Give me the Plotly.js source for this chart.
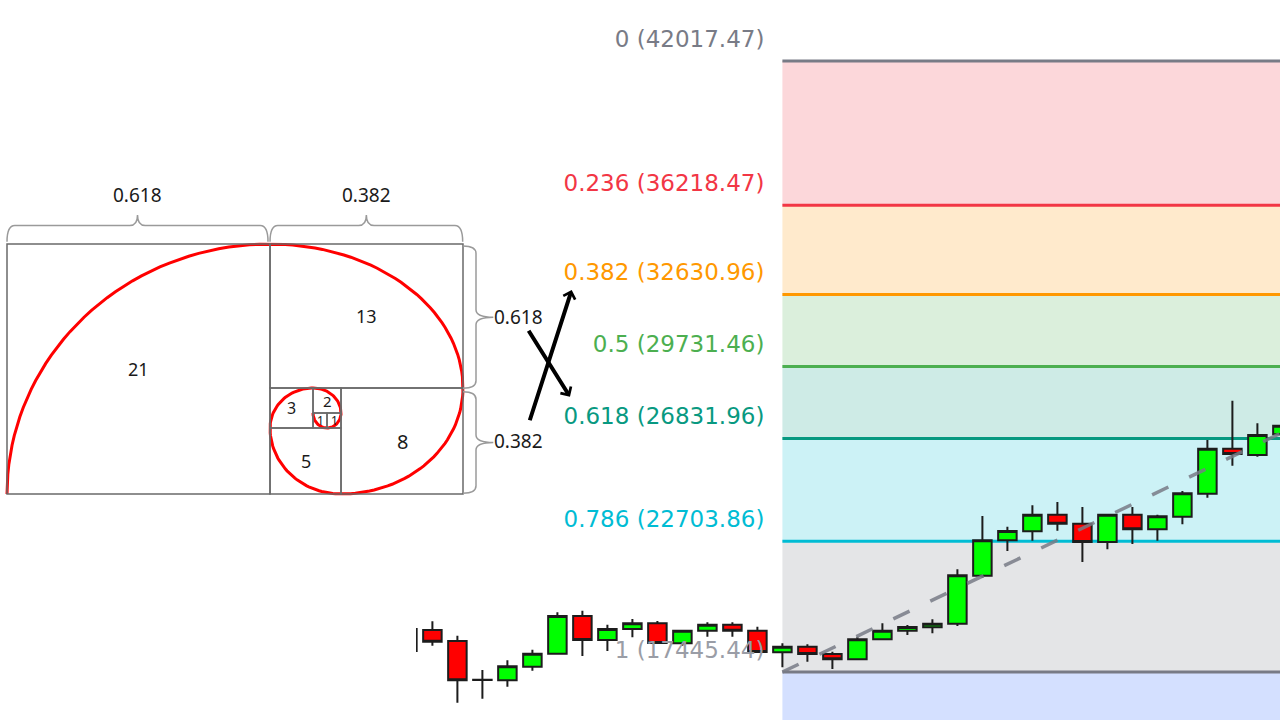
<!DOCTYPE html>
<html>
<head>
<meta charset="utf-8">
<script src="https://cdn.plot.ly/plotly-3.0.1.min.js"></script>
<style>html,body{margin:0;padding:0;background:#fff;}#chart{width:1280px;height:720px;}</style>
</head>
<body>
<div id="chart"></div>
<script>
// ---------------- DATA ----------------
// Fibonacci retracement levels and their prices
const fibLevels = [0, 0.236, 0.382, 0.5, 0.618, 0.786, 1];
const fibPrices = [42017.47, 36218.47, 32630.96, 29731.46, 26831.96, 22703.86, 17445.44];
const fibColors = ['#787b86', '#f23645', '#ff9800', '#4caf50', '#089981', '#00bcd4', '#787b86'];
const fibLabelColors = ['#787b86', '#f23645', '#ff9800', '#4caf50', '#089981', '#00bcd4', '#9a9da6'];
const extLevel = 1.618;
const extColor = '#2962ff';

// Candles (index order)
const candleOpen  = [18290, 19134, 18692, 17130, 17112, 17659, 18181, 19698, 18732, 19175, 19404, 18600, 19106, 19348, 19106, 18238, 18463, 18169, 17956, 18760, 19106, 19243, 19388, 21318, 22742, 23104, 23771, 23410, 22674, 23771, 23184, 23690, 24616, 26426, 26172, 27005];
const candleHigh  = [19175, 19484, 18905, 17526, 17916, 18342, 19846, 19911, 19348, 19577, 19496, 19110, 19444, 19444, 19267, 18600, 18559, 18262, 18865, 19404, 19336, 19565, 21576, 23719, 23289, 24150, 24282, 24081, 23780, 24081, 23771, 24725, 26776, 28356, 27447, 27351];
const candleLow   = [18290, 18503, 16211, 16372, 16854, 17498, 18169, 18089, 18290, 18841, 18592, 18503, 18865, 18865, 18245, 17634, 17860, 17566, 17950, 18755, 18933, 19002, 19295, 21238, 22312, 22726, 23128, 21869, 22380, 22593, 22726, 23385, 24455, 25742, 26104, 27005];
const candleClose = [19175, 18664, 17112, 17124, 17675, 18181, 19698, 18732, 19175, 19404, 18612, 19106, 19348, 19106, 18250, 18463, 18169, 17956, 18760, 19106, 19255, 19388, 21334, 22742, 23116, 23771, 23410, 22674, 23771, 23184, 23707, 24632, 26426, 26212, 26977, 27351];

// Swing used by the retracement tool (candle index of swing low / swing high)
const swingIdx = [15, 66];

// Golden-spiral diagram: squares (diagram units, outer rectangle = 1 x 1)
const squareLabel = ['21', '13', '8', '5', '3', '2', '1', '1'];
const squareX0 = [0, 0.5768, 0.7325, 0.5768, 0.5768, 0.6711, 0.7018, 0.6711];
const squareX1 = [0.5768, 1, 1, 0.7325, 0.6711, 0.7325, 0.7325, 0.7018];
const squareY0 = [0, 0.424, 0, 0, 0.264, 0.324, 0.264, 0.264];
const squareY1 = [1, 1, 0.424, 0.264, 0.424, 0.424, 0.324, 0.324];
const braceLabels = ['0.618', '0.382'];

// ---------------- LAYOUT CONSTANTS ----------------
const W = 1280, H = 720;
const xDomain = [416 / W, 1];
const xRange = [0.344, 34.904];
const yRange = [15515.07, 44470.62];
const pxPerIdx = (W * (xDomain[1] - xDomain[0])) / (xRange[1] - xRange[0]);
const pricePerPx = (yRange[1] - yRange[0]) / H;
const LABEL_GAP_PX = 18, LABEL_RISE_PX = 20;

function rgba(hex, a) {
  const n = parseInt(hex.slice(1), 16);
  return `rgba(${(n >> 16) & 255},${(n >> 8) & 255},${n & 255},${a})`;
}

const shapes = [];
const annotations = [];

// Fib bands
const bandLevels = fibLevels.concat([extLevel]);
const hiP = fibPrices[0], loP = fibPrices[fibPrices.length - 1];
const bandPrices = fibPrices.concat([hiP - extLevel * (hiP - loP)]);
const bandColors = fibColors.slice(1).concat([extColor]);
for (let i = 0; i < bandLevels.length - 1; i++) {
  shapes.push({type: 'rect', xref: 'x', yref: 'y', layer: 'below',
    x0: swingIdx[0], x1: 1000, y0: bandPrices[i], y1: bandPrices[i + 1],
    fillcolor: rgba(bandColors[i], 0.2), line: {width: 0}});
}
// Fib level lines
fibPrices.forEach((p, i) => {
  shapes.push({type: 'line', xref: 'x', yref: 'y', layer: 'below',
    x0: swingIdx[0], x1: 1000, y0: p, y1: p,
    line: {color: fibColors[i], width: 3}});
});

// Diagram squares
for (let k = 0; k < squareLabel.length; k++) {
  shapes.push({type: 'rect', xref: 'x2', yref: 'y2', layer: 'above',
    x0: squareX0[k], x1: squareX1[k], y0: squareY0[k], y1: squareY1[k],
    line: {color: '#6a6a6a', width: 1.5}, fillcolor: 'rgba(0,0,0,0)'});
  const fs = [18, 18, 20, 18, 16, 15, 12, 12][k];
  annotations.push({xref: 'x2', yref: 'y2', showarrow: false,
    x: (squareX0[k] + squareX1[k]) / 2, y: (squareY0[k] + squareY1[k]) / 2,
    text: squareLabel[k], font: {family: 'Noto Sans', size: fs, color: '#1a1a1a'}});
}

// Spiral (quarter arcs through the squares)
const spX = [], spY = [];
for (let k = 0; k < squareLabel.length; k++) {
  const x0 = squareX0[k], x1 = squareX1[k], y0 = squareY0[k], y1 = squareY1[k];
  const m = k % 4;
  const cx = (m === 0 || m === 3) ? x1 : x0;
  const cy = (m === 0 || m === 1) ? y0 : y1;
  const rx = x1 - x0, ry = y1 - y0;
  const a0 = (180 - 90 * k) * Math.PI / 180;
  const N = 40;
  for (let j = 0; j <= N; j++) {
    const a = a0 - (Math.PI / 2) * j / N;
    spX.push(cx + rx * Math.cos(a));
    spY.push(cy + ry * Math.sin(a));
  }
}

// Braces
function hBrace(a, b, e, l, t) {
  const d = 0.017, m = (a + b) / 2;
  return `M${a},${e} Q${a},${l} ${a + d},${l} L${m - d},${l} Q${m},${l} ${m},${t} Q${m},${l} ${m + d},${l} L${b - d},${l} Q${b},${l} ${b},${e}`;
}
function vBrace(top, bot, e, l, t) {
  const d = 0.03, m = (top + bot) / 2;
  return `M${e},${top} Q${l},${top} ${l},${top - d} L${l},${m + d} Q${l},${m} ${t},${m} Q${l},${m} ${l},${m - d} L${l},${bot + d} Q${l},${bot} ${e},${bot}`;
}
const braceLine = {color: '#9a9a9a', width: 1.5};
shapes.push({type: 'path', xref: 'x2', yref: 'y2', path: hBrace(0, 0.5724, 1.009, 1.074, 1.116), line: braceLine});
shapes.push({type: 'path', xref: 'x2', yref: 'y2', path: hBrace(0.5768, 0.9993, 1.009, 1.074, 1.116), line: braceLine});
shapes.push({type: 'path', xref: 'x2', yref: 'y2', path: vBrace(0.992, 0.4228, 1.0, 1.0285, 1.0665), line: braceLine});
shapes.push({type: 'path', xref: 'x2', yref: 'y2', path: vBrace(0.4093, 0.0027, 1.0, 1.0285, 1.0665), line: braceLine});

const labFont = {family: 'Noto Sans', size: 19, color: '#1a1a1a'};
annotations.push({xref: 'x2', yref: 'y2', showarrow: false, x: 0.2866, y: 1.196, text: braceLabels[0], font: labFont});
annotations.push({xref: 'x2', yref: 'y2', showarrow: false, x: 0.789, y: 1.196, text: braceLabels[1], font: labFont});
annotations.push({xref: 'x2', yref: 'y2', showarrow: false, x: 1.063, y: 0.707, xanchor: 'left', text: braceLabels[0], font: labFont});
annotations.push({xref: 'x2', yref: 'y2', showarrow: false, x: 1.063, y: 0.2132, xanchor: 'left', text: braceLabels[1], font: labFont});

// Arrows
annotations.push({xref: 'x2', yref: 'y2', axref: 'x2', ayref: 'y2', text: '', showarrow: true,
  x: 1.2384, y: 0.816, ax: 1.1454, ay: 0.289, arrowhead: 4, arrowsize: 0.6, arrowwidth: 4, arrowcolor: '#000', standoff: 0});
annotations.push({xref: 'x2', yref: 'y2', axref: 'x2', ayref: 'y2', text: '', showarrow: true,
  x: 1.2346, y: 0.389, ax: 1.1419, ay: 0.659, arrowhead: 4, arrowsize: 0.6, arrowwidth: 4, arrowcolor: '#000', standoff: 0});

// ---------------- TRACES ----------------
const traces = [];
traces.push({type: 'scatter', mode: 'lines', x: swingIdx, y: [loP, hiP], xaxis: 'x', yaxis: 'y',
  line: {color: 'rgba(120,123,134,0.85)', width: 3.5, dash: '18px,23px'}, hoverinfo: 'skip', cliponaxis: true});
traces.push({type: 'scatter', mode: 'text', xaxis: 'x', yaxis: 'y', cliponaxis: false, hoverinfo: 'skip',
  x: fibLevels.map(() => swingIdx[0] - LABEL_GAP_PX / pxPerIdx),
  y: fibPrices.map(p => p + LABEL_RISE_PX * pricePerPx),
  text: fibLevels.map((l, i) => `${l} (${fibPrices[i].toFixed(2)})`),
  textposition: 'middle left',
  textfont: {family: 'DejaVu Sans', size: 23, color: fibLabelColors}});
traces.push({type: 'candlestick', xaxis: 'x', yaxis: 'y',
  x: candleOpen.map((_, i) => i), open: candleOpen, high: candleHigh, low: candleLow, close: candleClose,
  increasing: {fillcolor: '#00ff00', line: {color: '#1c1c1c', width: 2}},
  decreasing: {fillcolor: '#ff0000', line: {color: '#1c1c1c', width: 2}},
  whiskerwidth: 0, hoverinfo: 'skip'});
traces.push({type: 'scatter', mode: 'lines', x: spX, y: spY, xaxis: 'x2', yaxis: 'y2',
  line: {color: '#ff0000', width: 3}, hoverinfo: 'skip', cliponaxis: false});

const layout = {
  width: W, height: H, margin: {l: 0, r: 0, t: 0, b: 0, pad: 0},
  paper_bgcolor: '#ffffff', plot_bgcolor: 'rgba(0,0,0,0)', showlegend: false,
  boxgap: 0.26, boxgroupgap: 0,
  xaxis: {domain: xDomain, range: xRange, visible: false, rangeslider: {visible: false}, fixedrange: true},
  yaxis: {domain: [0, 1], range: yRange, visible: false, fixedrange: true},
  xaxis2: {domain: [0, 1], range: [-7 / 456, 1273 / 456], visible: false, anchor: 'y2', fixedrange: true},
  yaxis2: {domain: [0, 1], range: [-226 / 250, 494 / 250], visible: false, anchor: 'x2', fixedrange: true},
  shapes: shapes, annotations: annotations
};

Plotly.newPlot('chart', traces, layout, {staticPlot: true, displayModeBar: false});
</script>
</body>
</html>
